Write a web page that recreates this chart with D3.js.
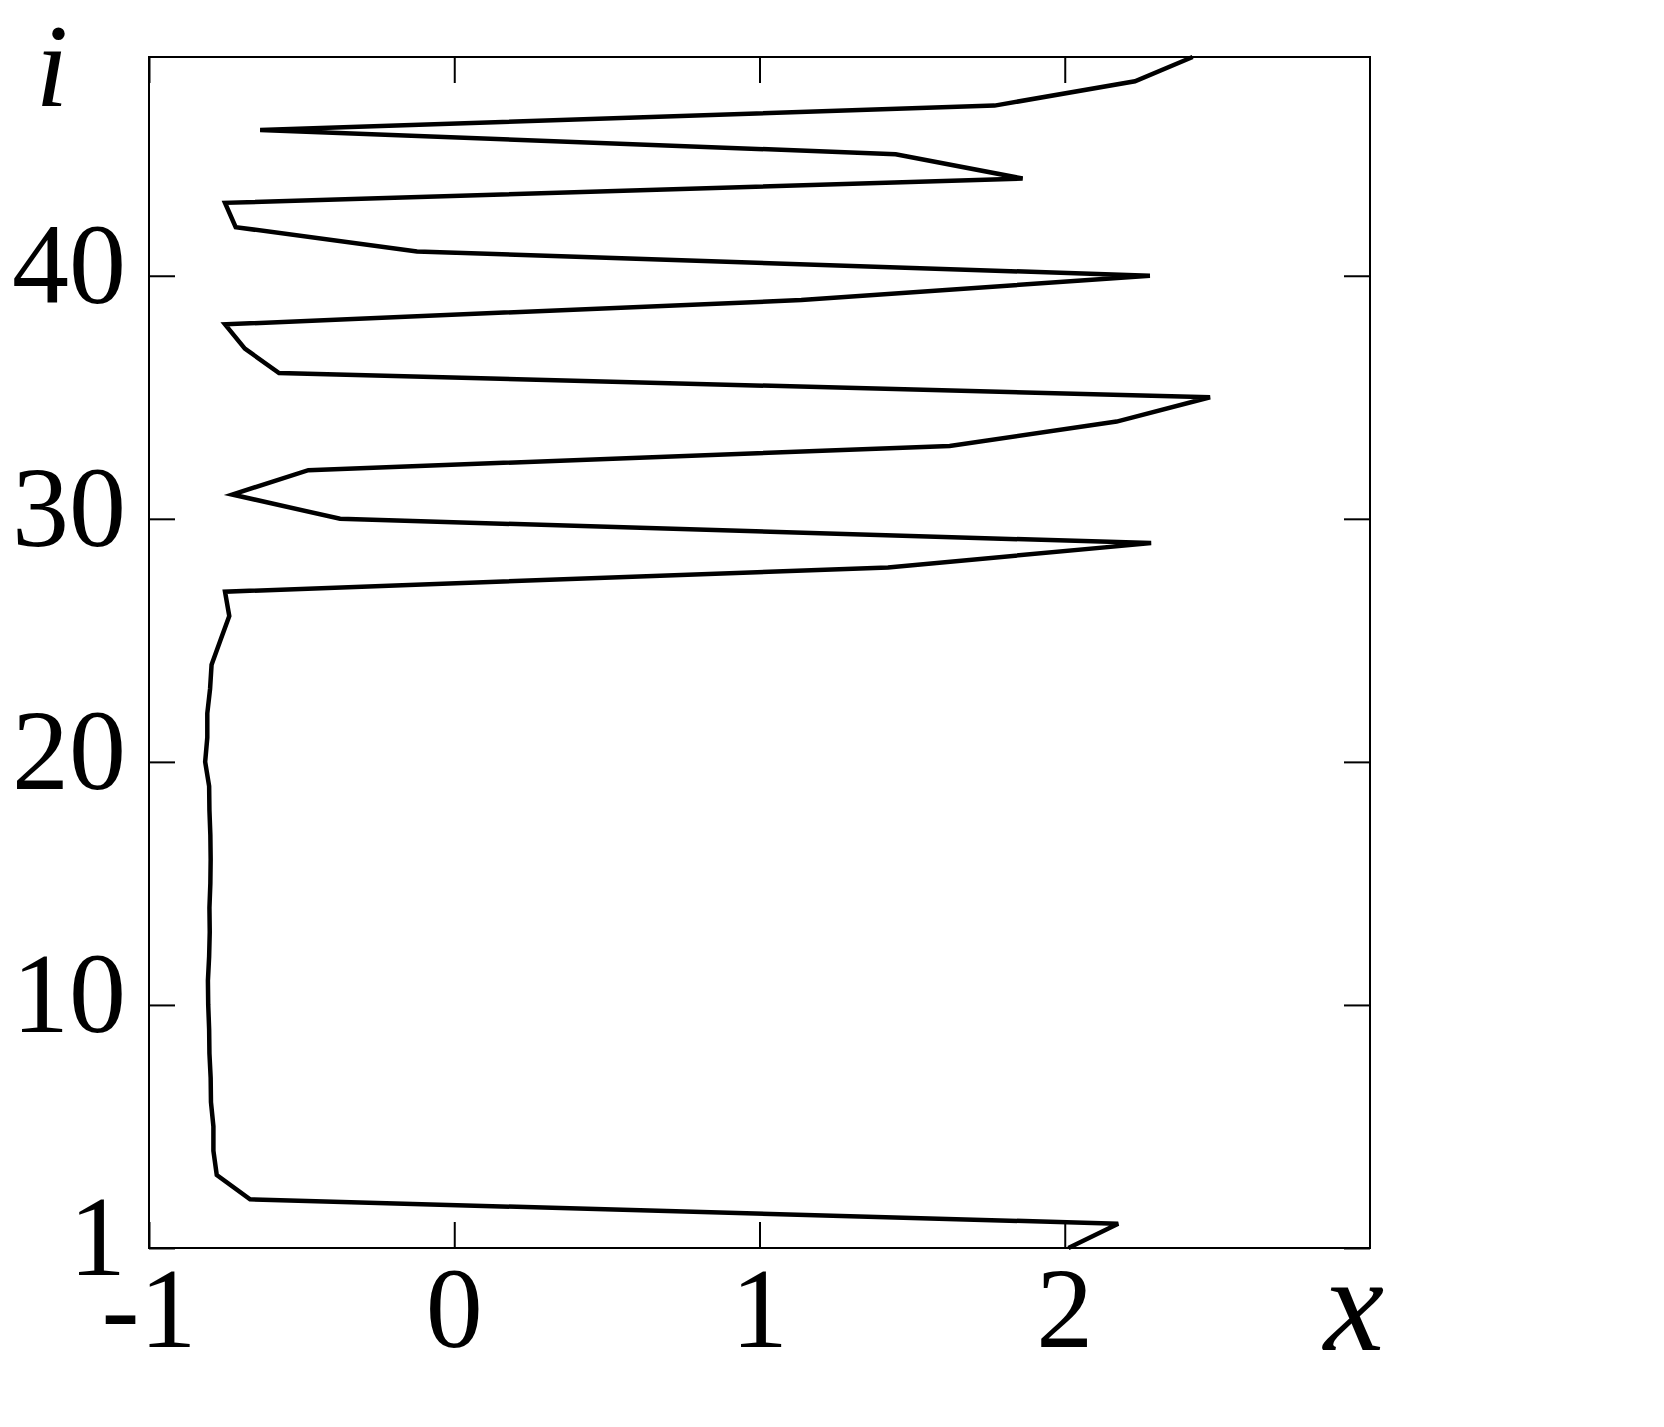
<!DOCTYPE html>
<html><head><meta charset="utf-8">
<script src="https://cdn.jsdelivr.net/npm/d3@7"></script>
<style>body{margin:0;background:#fff}</style></head>
<body><svg id="c" width="1664" height="1427"></svg>
<script>
// ---- data ----
const iValues = d3.range(0, 50);
const xValues = [2.012, 2.175, -0.669, -0.778, -0.789, -0.789, -0.797, -0.798, -0.802, -0.803,
  -0.806, -0.807, -0.803, -0.801, -0.802, -0.799, -0.798, -0.799, -0.802, -0.803,
  -0.816, -0.809, -0.809, -0.800, -0.795, -0.766, -0.737, -0.751, 1.421, 2.283,
  -0.374, -0.727, -0.478, 1.623, 2.170, 2.476, -0.574, -0.686, -0.751, 1.137,
  2.279, -0.122, -0.716, -0.751, 1.862, 1.446, -0.636, 1.770, 2.230, 2.419];
const xTickValues = [-1, 0, 1, 2];
const xTickLabels = ["-1", "0", "1", "2"];
const yTickValues = [0, 10, 20, 30, 40];
const yTickLabels = ["1", "10", "20", "30", "40"];

// ---- layout ----
const L = 149, R = 1370, T = 57, B = 1248;
const svg = d3.select("#c");
const x = d3.scaleLinear().domain([-1, 3]).range([L, R]);
const y = d3.scaleLinear().domain([0, 49]).range([B, T]);
const font = "'Liberation Serif', 'DejaVu Serif', serif";
const tick = 26;

// frame
svg.append("rect").attr("x", L).attr("y", T).attr("width", R - L).attr("height", B - T)
  .attr("fill", "none").attr("stroke", "#000").attr("stroke-width", 2);

function ticksOnly(g) {
  g.selectAll(".domain").remove();
  g.selectAll("text").remove();
  g.selectAll("line").attr("stroke", "#000").attr("stroke-width", 2);
}
svg.append("g").attr("transform", `translate(0,${B})`)
  .call(d3.axisBottom(x).tickValues(xTickValues).tickSizeInner(-tick).tickSizeOuter(0)).call(ticksOnly);
svg.append("g").attr("transform", `translate(0,${T})`)
  .call(d3.axisTop(x).tickValues(xTickValues).tickSizeInner(-tick).tickSizeOuter(0)).call(ticksOnly);
svg.append("g").attr("transform", `translate(${L},0)`)
  .call(d3.axisLeft(y).tickValues(yTickValues).tickSizeInner(-tick).tickSizeOuter(0)).call(ticksOnly);
svg.append("g").attr("transform", `translate(${R},0)`)
  .call(d3.axisRight(y).tickValues(yTickValues).tickSizeInner(-tick).tickSizeOuter(0)).call(ticksOnly);

// tick labels
svg.append("g").selectAll("text").data(xTickValues).join("text")
  .attr("x", d => x(d)).attr("y", 1347)
  .attr("text-anchor", "middle").attr("font-family", font).attr("font-stretch", "condensed")
  .attr("font-size", 114)
  .text((d, k) => xTickLabels[k]);
svg.append("g").selectAll("text").data(yTickValues).join("text")
  .attr("x", 126).attr("y", d => y(d) + 27)
  .attr("text-anchor", "end").attr("font-family", font).attr("font-stretch", "condensed")
  .attr("font-size", 114)
  .text((d, k) => yTickLabels[k]);

// axis titles
svg.append("text").attr("x", 52).attr("y", 106).attr("text-anchor", "middle")
  .attr("font-family", font).attr("font-style", "italic").attr("font-size", 118).text("i");
svg.append("text").attr("x", 1354).attr("y", 1350).attr("text-anchor", "middle")
  .attr("font-family", font).attr("font-style", "italic").attr("font-size", 136).text("x");

// line
const line = d3.line().x(d => x(xValues[d])).y(d => y(d));
svg.append("path").datum(iValues).attr("d", line)
  .attr("fill", "none").attr("stroke", "#000").attr("stroke-width", 4.5).attr("stroke-linejoin", "miter");
</script></body></html>
